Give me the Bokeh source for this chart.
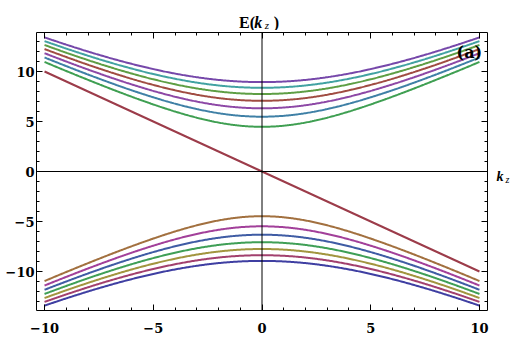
import numpy as np
from bokeh.plotting import figure
from bokeh.layouts import column, row
from bokeh.models import LinearAxis, Range1d, Span, Label, FixedTicker
from bokeh.embed import file_html
from bokeh.resources import INLINE

# ---- data ----
kz = np.linspace(-10, 10, 401)
upper_gaps = [4.47, 5.48, 6.32, 7.07, 7.75, 8.37, 8.94]
upper_colors = ["#3f9f52", "#3f80a6", "#8d48a6", "#a04c42", "#5e9e44", "#42a2a2", "#7648aa"]
lower_gaps = [8.94, 8.37, 7.75, 7.07, 6.32, 5.48, 4.47]
lower_colors = ["#3f3fa2", "#a2406e", "#a2953f", "#3f9f56", "#3f5ca4", "#a2409a", "#a2703f"]
linear_slope = -1.0
linear_color = "#9c3c4a"
major_ticks = [-10, -5, 0, 5, 10]
minor_ticks = list(range(-13, 14))
tick_overrides = {-10: "\u221210", -5: "\u22125", 0: "0", 5: "5", 10: "10"}

x_range = Range1d(-10.37, 10.37)
y_range = Range1d(-13.9, 13.9)

p = figure(width=490, height=309, output_backend="svg", toolbar_location=None, title=None,
           x_range=x_range, y_range=y_range,
           min_border_left=36, min_border_right=3, min_border_top=2, min_border_bottom=29)
p.grid.visible = False
p.outline_line_color = "black"
p.outline_line_width = 1
p.background_fill_color = "white"
p.border_fill_color = "white"

def style_axis(ax):
    ax.ticker = FixedTicker(ticks=major_ticks, minor_ticks=minor_ticks)
    ax.axis_line_color = None
    ax.major_tick_in = 6
    ax.major_tick_out = 0
    ax.minor_tick_in = 3
    ax.minor_tick_out = 0
    ax.major_tick_line_color = "black"
    ax.minor_tick_line_color = "black"
    ax.major_label_overrides = tick_overrides
    ax.major_label_text_font = "DejaVu Serif"
    ax.major_label_text_font_style = "bold"
    ax.major_label_text_font_size = "13px"
    ax.major_label_text_color = "black"

for ax in p.xaxis:
    style_axis(ax)
    ax.major_label_standoff = 12
for ax in p.yaxis:
    style_axis(ax)
    ax.major_label_standoff = 2

# tick marks only (no labels) on the top and right frame edges
def bare_axis(ticks, length):
    ax = LinearAxis(ticker=FixedTicker(ticks=[], minor_ticks=ticks))
    ax.axis_line_color = None
    ax.major_tick_in = 0
    ax.major_tick_out = 0
    ax.minor_tick_in = length
    ax.minor_tick_out = 0
    ax.minor_tick_line_color = "black"
    ax.major_label_standoff = 0
    return ax

minor_only = [t for t in minor_ticks if t not in major_ticks]
p.add_layout(bare_axis(major_ticks, 6), "above")
p.add_layout(bare_axis(minor_only, 3), "above")
p.add_layout(bare_axis(major_ticks, 6), "right")
p.add_layout(bare_axis(minor_only, 3), "right")

# axes through origin
p.add_layout(Span(location=0, dimension="width", line_color="black", line_width=1))
p.add_layout(Span(location=0, dimension="height", line_color="black", line_width=1))

for g, c in zip(upper_gaps, upper_colors):
    p.line(kz, np.sqrt(g**2 + kz**2), line_color=c, line_width=2)
for g, c in zip(lower_gaps, lower_colors):
    p.line(kz, -np.sqrt(g**2 + kz**2), line_color=c, line_width=2)
p.line(kz, linear_slope * kz, line_color=linear_color, line_width=2)

def blank_fig(w, h, xr, yr, left, right, top, bottom):
    f = figure(width=w, height=h, output_backend="svg", toolbar_location=None, title=None,
               x_range=xr, y_range=yr, x_axis_type=None, y_axis_type=None,
               min_border_left=left, min_border_right=right,
               min_border_top=top, min_border_bottom=bottom)
    f.grid.visible = False
    f.outline_line_color = None
    f.background_fill_color = "white"
    f.border_fill_color = "white"
    return f

def lab(f, x, y, t, size, style, font="Liberation Serif"):
    f.add_layout(Label(x=x, y=y, text=t, text_font=font, text_font_size=size,
                       text_font_style=style, text_color="black",
                       text_baseline="alphabetic", text_align="left"))

# title strip E(k_z)
tf = blank_fig(516, 30, x_range, Range1d(0, 30), 37, 29, 0, 0)
lab(tf, -1.08, 8, "E(", "16px", "bold")
lab(tf, -0.38, 8, "k", "16px", "bold italic")
lab(tf, 0.10, 5.3, "z", "11px", "italic")
lab(tf, 0.52, 8, ")", "16px", "bold")

# k_z axis label strip on the right
kf = blank_fig(26, 309, Range1d(0, 26), y_range, 0, 0, 2, 29)
lab(kf, 6, -0.54, "k", "14px", "bold italic")
lab(kf, 15, -0.82, "z", "10px", "italic")

# panel label
lab(p, 8.95, 11.9, "(a)", "16px", "bold", font="DejaVu Serif")

layout = column(tf, row(p, kf))
open("out.html", "w").write(file_html(layout, INLINE))
